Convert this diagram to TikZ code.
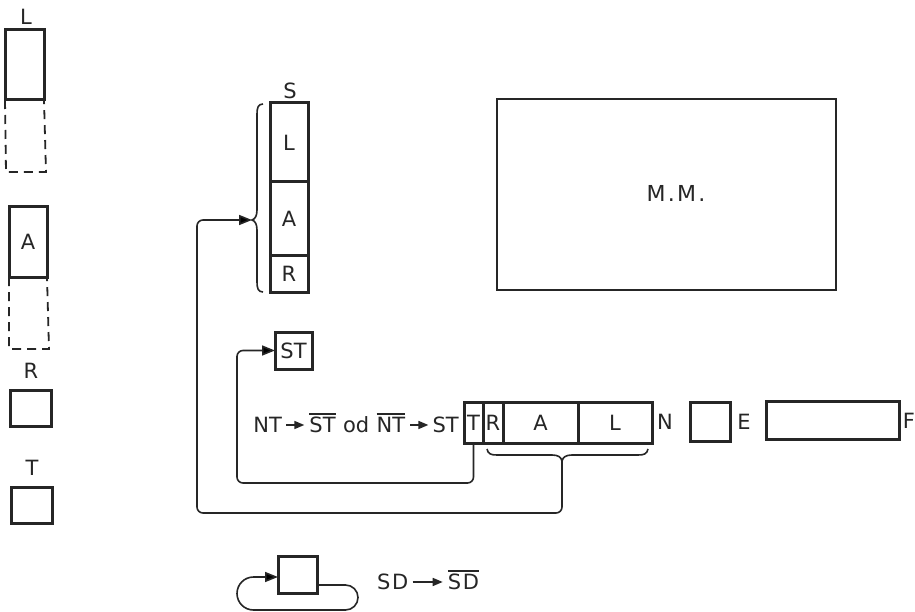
\documentclass[tikz,border=0pt]{standalone}
\usepackage{fontspec}
\setmainfont{DejaVu Sans}
\usetikzlibrary{arrows.meta}
\colorlet{ink}{black!85}
\newcommand\ovl[1]{\tikz[baseline=(t.base)]{\node[inner sep=0pt,outer sep=0pt](t){#1};\draw[ink,line width=1.6pt]([yshift=3pt]t.north west)--([yshift=3pt]t.north east);}}
\newcommand\tarr[1]{\tikz[baseline=-0.36em]\draw[ink,line width=1.6pt,-{Triangle[length=10pt,width=8pt]}](0pt,0pt)--(#1,0pt);}
\begin{document}
\begin{tikzpicture}[x=1pt,y=-1pt,
  lbl/.style={font=\fontsize{21}{21}\selectfont, inner sep=0pt, text=ink},
  box/.style={draw=ink, line width=3pt, inner sep=0pt, outer sep=0pt, font=\fontsize{21}{21}\selectfont, text=ink},
  conn/.style={draw=ink, line width=1.6pt, rounded corners=6pt},
  thinl/.style={draw=ink, line width=1.6pt},
  dashl/.style={draw=ink, line width=1.8pt, dash pattern=on 9pt off 6pt},
  tip/.style={-{Triangle[length=13pt,width=10pt]}}]
\useasboundingbox[fill=white] (0,0) rectangle (915,612);

% left column
\node[lbl] (Llab) at (26,17) {L};
\node[box, minimum width=39pt, minimum height=70pt] (Lbox) at (24.5,65) {};
\draw[dashl] (Lbox.south west) -- (6,172) -- (46,172) -- (Lbox.south east);
\node[box, minimum width=38pt, minimum height=70pt] (Abox) at (28,242) {A};
\draw[dashl] (Abox.south west) -- (9,349) -- (49,349) -- (Abox.south east);
\node[lbl] (Rlab) at (31,371) {R};
\node[box, minimum width=41pt, minimum height=36pt] (Rbox) at (30.5,408) {};
\node[lbl] (Tlab) at (32,468) {T};
\node[box, minimum width=41pt, minimum height=36pt] (Tbox) at (31.5,505) {};

% S stack
\node[lbl] (Slab) at (290,91) {S};
\node[box, minimum width=38pt, minimum height=79pt] (SL) at (289,142.5) {L};
\node[box, minimum width=38pt, minimum height=74pt] (SA) at (289,219) {A};
\node[box, minimum width=38pt, minimum height=36pt] (SR) at (289,274) {R};
\coordinate (Stip) at (252,220);
\draw[thinl] (263,104) .. controls (258,104) and (257,108) .. (257,114) -- (257,210)
  .. controls (257,216) and (255,219) .. (Stip)
  .. controls (255,221) and (257,224) .. (257,230) -- (257,282)
  .. controls (257,288) and (258,292) .. (263,292);

% M.M.
\node[draw=ink, line width=1.8pt, minimum width=339pt, minimum height=191pt, inner sep=0pt] (MM) at (666.5,194.5) {};
\node[lbl, font=\fontsize{22}{22}\selectfont\addfontfeature{LetterSpace=10}] (MMlab) at (676,193) {M.M.};

% ST
\node[box, minimum width=37pt, minimum height=37pt] (ST) at (293.5,350.5) {ST};

% register
\node[box, minimum width=19pt, minimum height=41pt] (rT) at (473.5,422.5) {T};
\node[box, minimum width=20pt, minimum height=41pt] (rR) at (493,422.5) {R};
\node[box, minimum width=75pt, minimum height=41pt] (rA) at (540.5,422.5) {A};
\node[box, minimum width=74pt, minimum height=41pt] (rL) at (615,422.5) {L};
\node[lbl, anchor=east] (form) at (459,423) {NT\,\tarr{18pt}\,\ovl{ST} od \ovl{NT}\,\tarr{18pt}\,ST};
\node[lbl] (Nlab) at (665,422) {N};
\node[box, minimum width=40pt, minimum height=39pt] (Ebox) at (710,421.5) {};
\node[lbl] (Elab) at (744,422) {E};
\node[box, minimum width=133pt, minimum height=38pt] (Fbox) at (832.5,420) {};
\node[lbl] (Flab) at (909,421) {F};

% brace under register
\coordinate (Btip) at (562,461);
\draw[thinl] (487,449) .. controls (488,454) and (491,455) .. (497,455) -- (552,455)
  .. controls (558,455) and (561,457) .. (Btip)
  .. controls (563,457) and (566,455) .. (572,455) -- (638,455)
  .. controls (644,455) and (647,454) .. (648,449);

% connectors
\draw[conn, tip] (Btip) -- (562,513) -- (197,513) -- (197,220) -- (Stip);
\draw[conn, tip] (rT.south) -- (473.5,483) -- (237,483) -- (237,350.5) -- (ST.west);

% bottom loop
\node[box, minimum width=39pt, minimum height=37pt] (Loop) at (297.5,574.5) {};
\draw[thinl, tip] ([yshift=-10.5pt]Loop.east) [rounded corners=12.5pt] -- (358,585) -- (358,610)
  [rounded corners=16.5pt] -- (237,610) -- (237,577) [sharp corners] -- ([yshift=-2.5pt]Loop.west);
\node[lbl, anchor=west, font=\fontsize{21}{21}\selectfont\addfontfeature{LetterSpace=8}] (sd) at (377,580) {SD\,\tarr{30pt}\,\ovl{SD}};
\end{tikzpicture}
\end{document}
